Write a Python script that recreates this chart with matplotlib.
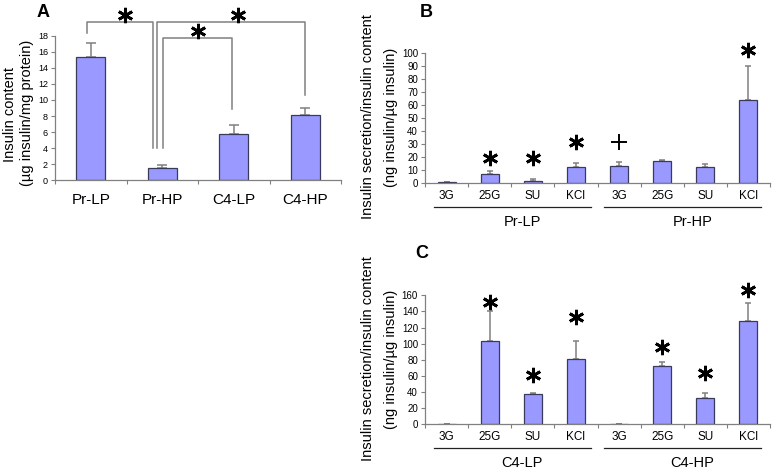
import numpy as np
import matplotlib
matplotlib.use("Agg")
import matplotlib.pyplot as plt

plt.rcParams['font.family'] = ['Liberation Sans', 'DejaVu Sans']

# ---------------- data ----------------
a_groups = ['Pr-LP', 'Pr-HP', 'C4-LP', 'C4-HP']
a_vals = [15.3, 1.5, 5.75, 8.15]
a_err = [1.8, 0.4, 1.15, 0.85]

conditions = ['3G', '25G', 'SU', 'KCl']
b_groups = ['Pr-LP', 'Pr-HP']
b_lp = [0.5, 6.7, 1.3, 12.4]
b_lp_err = [0.0, 2.1, 1.3, 2.8]
b_hp = [12.9, 16.5, 11.9, 63.9]
b_hp_err = [2.8, 1.3, 2.3, 26.3]
b_sig = ['', '*', '*', '*', '+', '', '', '*']
b_sig_y = [0, 18.8, 18.8, 31.2, 31.2, 0, 0, 102.6]

c_groups = ['C4-LP', 'C4-HP']
c_lp = [0.8, 102.9, 37.2, 80.6]
c_lp_err = [0.0, 37.6, 1.2, 22.3]
c_hp = [0.8, 71.9, 32.2, 128.1]
c_hp_err = [0.0, 5.0, 7.1, 22.3]
c_sig = ['', '*', '*', '*', '', '*', '*', '*']
c_sig_y = [0, 152, 61, 133.5, 0, 96, 64, 167]

# ---------------- style ----------------
BAR = '#9999ff'
EDGE = '#3a3a5a'
GRAY = '#808080'
W, H = 777, 472

fig = plt.figure(figsize=(W / 100, H / 100), dpi=100)


def ax_px(l, t, r, b):
    return fig.add_axes([l / W, 1 - b / H, (r - l) / W, (b - t) / H])


def style_axes(ax, n, ylab_size):
    for s in ['top', 'right']:
        ax.spines[s].set_visible(False)
    for s in ['left', 'bottom']:
        ax.spines[s].set_color(GRAY)
        ax.spines[s].set_linewidth(0.9)
    ax.set_xlim(-0.5, n - 0.5)
    ax.tick_params(axis='y', direction='out', length=3, width=0.8,
                   color=GRAY, labelsize=ylab_size, pad=2)
    ax.set_xticks(np.arange(n))
    ax.set_xticks(np.arange(n + 1) - 0.5, minor=True)
    ax.tick_params(axis='x', which='major', length=0)
    ax.tick_params(axis='x', which='minor', direction='out', length=3,
                   width=0.8, color=GRAY)


def star(ax, x, y, ms=11):
    ax.plot([x], [y], linestyle='', marker=(6, 2, 0), ms=ms, mew=2.0,
            color='black', clip_on=False)


def plus(ax, x, y):
    ax.plot([x], [y], linestyle='', marker='+', ms=12, mew=1.4,
            color='black', clip_on=False)


# ---------------- Panel A ----------------
axA = ax_px(55, 35.7, 341, 180.3)
xa = np.arange(len(a_groups))
axA.bar(xa, a_vals, width=0.41, color=BAR, edgecolor=EDGE, linewidth=0.9,
        zorder=2)
axA.errorbar(xa, a_vals, yerr=[np.zeros(len(a_vals)), a_err], fmt='none',
             ecolor=GRAY, elinewidth=1.1, capsize=3.3, capthick=1.1, zorder=1)
style_axes(axA, len(a_groups), 6.5)
axA.set_ylim(0, 18)
axA.set_yticks(np.arange(0, 19, 2))
axA.set_xticklabels(a_groups, fontsize=11)
axA.tick_params(axis='x', which='major', pad=9)

# significance brackets
bk = dict(color=GRAY, lw=1.1, clip_on=False)
axA.plot([-0.05, -0.05, 0.87, 0.87], [18.3, 19.75, 19.75, 4.06], **bk)
axA.plot([0.93, 0.93, 3.0, 3.0], [4.06, 19.68, 19.68, 10.6], **bk)
axA.plot([1.01, 1.01, 1.98, 1.98], [4.06, 17.75, 17.75, 8.88], **bk)
star(axA, 0.48, 20.6)
star(axA, 2.06, 20.6)
star(axA, 1.5, 18.6)

fig.text(10 / W, 1 - 115 / H, 'Insulin content', rotation=90,
         ha='center', va='center', fontsize=10.5)
fig.text(27 / W, 1 - 113 / H, '(\u00b5g insulin/mg protein)', rotation=90,
         ha='center', va='center', fontsize=10.5)
fig.text(43 / W, 1 - 12.5 / H, 'A', ha='center', va='center',
         fontsize=13, fontweight='bold')


# ---------------- Panels B and C ----------------
def stim_panel(ax, lp, lp_err, hp, hp_err, groups, sig, sig_y, ymax, ystep,
               axh):
    vals = list(lp) + list(hp)
    errs = list(lp_err) + list(hp_err)
    x = np.arange(len(vals))
    ax.bar(x, vals, width=0.42, color=BAR, edgecolor=EDGE, linewidth=0.9,
           zorder=2)
    ax.errorbar(x, vals, yerr=[np.zeros(len(vals)), errs], fmt='none',
                ecolor=GRAY, elinewidth=1.1, capsize=2.4, capthick=1.1,
                zorder=1)
    style_axes(ax, len(vals), 7)
    ax.set_ylim(0, ymax)
    ax.set_yticks(np.arange(0, ymax + 1, ystep))
    ax.set_xticklabels(conditions * 2, fontsize=8.5)
    ax.tick_params(axis='x', which='major', pad=5)
    tr = ax.get_xaxis_transform()
    yl = -24 / axh
    yg = -39 / axh
    ax.plot([-0.3, 3.35], [yl, yl], color='#222222', lw=0.9,
            transform=tr, clip_on=False)
    ax.plot([3.65, 7.3], [yl, yl], color='#222222', lw=0.9,
            transform=tr, clip_on=False)
    ax.text(1.75, yg, groups[0], transform=tr, ha='center', va='center',
            fontsize=10.5)
    ax.text(5.7, yg, groups[1], transform=tr, ha='center', va='center',
            fontsize=10.5)
    for i, (s, y) in enumerate(zip(sig, sig_y)):
        if s == '*':
            star(ax, i, y)
        elif s == '+':
            plus(ax, i, y)


axB = ax_px(425, 53.3, 770, 182.7)
stim_panel(axB, b_lp, b_lp_err, b_hp, b_hp_err, b_groups, b_sig, b_sig_y,
           100, 10, 129.4)
axC = ax_px(425, 295.3, 770, 424.3)
stim_panel(axC, c_lp, c_lp_err, c_hp, c_hp_err, c_groups, c_sig, c_sig_y,
           160, 20, 129.0)

for yc in (117, 359):
    fig.text(368 / W, 1 - yc / H, 'Insulin secretion/insulin content',
             rotation=90, ha='center', va='center', fontsize=10.5)
    fig.text(391 / W, 1 - yc / H, '(ng insulin/\u00b5g insulin)',
             rotation=90, ha='center', va='center', fontsize=10.5)
fig.text(426 / W, 1 - 12.5 / H, 'B', ha='center', va='center',
         fontsize=13, fontweight='bold')
fig.text(422 / W, 1 - 254 / H, 'C', ha='center', va='center',
         fontsize=13, fontweight='bold')

fig.savefig('out.png', dpi=100)
